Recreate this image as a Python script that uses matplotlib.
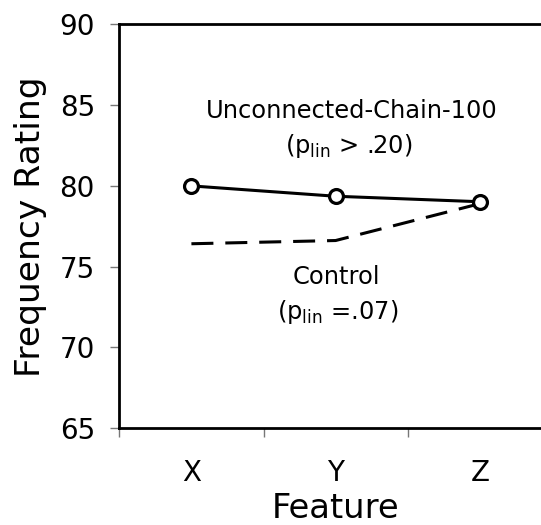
import matplotlib
matplotlib.use("Agg")
import matplotlib.pyplot as plt

# Data
features = ["X", "Y", "Z"]
unconnected = [80.0, 79.36, 79.02]
control = [76.42, 76.62, 78.9]
y_ticks = [65, 70, 75, 80, 85, 90]

plt.rcParams["font.family"] = ["DejaVu Sans"]

fig = plt.figure(figsize=(5.41, 5.25), dpi=100)
ax = fig.add_axes([0.2205, 0.1842, 0.7998, 0.7695])

xpos = [i + 0.5 for i in range(len(features))]

ax.plot(xpos, control, color="black", lw=2.2, dashes=(7.2, 3.9), zorder=2)
ax.plot(xpos, unconnected, color="black", lw=2.2, marker="o", ms=10,
        mfc="white", mec="black", mew=2.3, zorder=3)

ax.set_xlim(0, 3)
ax.set_ylim(65, 90)
ax.set_yticks(y_ticks)
ax.set_yticklabels([str(t) for t in y_ticks], fontsize=20)

# major ticks mark category boundaries, minor ticks carry the labels
ax.set_xticks([0, 1, 2, 3])
ax.set_xticklabels([])
ax.set_xticks(xpos, minor=True)
ax.set_xticklabels(features, minor=True, fontsize=20)
ax.tick_params(axis="x", which="minor", length=0, pad=22)
ax.tick_params(axis="both", which="major", direction="out", length=6.5,
               width=1.0, color="#777777", pad=11)

for side in ["left", "bottom", "top", "right"]:
    ax.spines[side].set_linewidth(2.0)

ax.set_ylabel("Frequency Rating", fontsize=24.8, labelpad=9)
ax.set_xlabel("Feature", fontsize=24.3, labelpad=4)

ax.text(1.614, 84.63, "Unconnected-Chain-100", fontsize=17.4,
        ha="center", va="center")
ax.text(1.593, 82.47, r"($\mathregular{p_{lin}}$ > .20)", fontsize=17.4,
        ha="center", va="center")
ax.text(1.503, 74.37, "Control", fontsize=17.4, ha="center", va="center")
ax.text(1.516, 72.2, r"($\mathregular{p_{lin}}$ =.07)", fontsize=17.4,
        ha="center", va="center")

fig.savefig("out.png", dpi=100)
